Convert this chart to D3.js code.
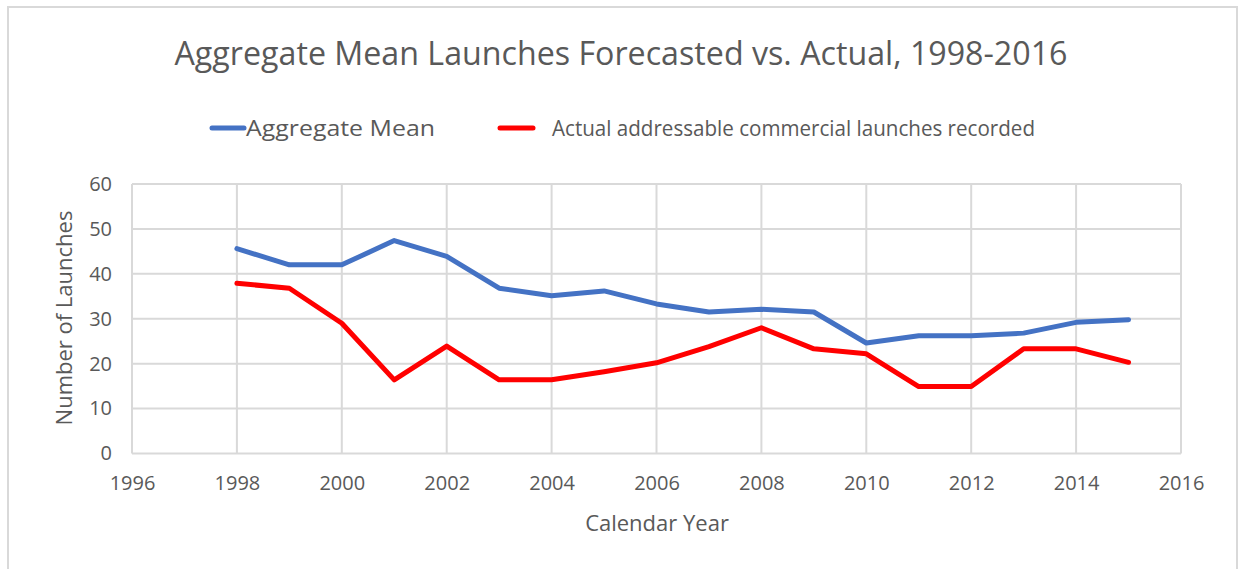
<!DOCTYPE html>
<html>
<head>
<meta charset="utf-8">
<script src="https://cdn.jsdelivr.net/npm/d3@7"></script>
<style>
  body { margin: 0; background: #fff; }
  text { font-family: "Liberation Sans Narrow", "Open Sans", sans-serif; fill: #595959; }
</style>
</head>
<body>
<svg id="chart"></svg>
<script>
// chart data
const years = [1998, 1999, 2000, 2001, 2002, 2003, 2004, 2005, 2006, 2007, 2008, 2009, 2010, 2011, 2012, 2013, 2014, 2015];
const aggregateMean = [45.6, 42.0, 42.0, 47.4, 43.9, 36.8, 35.1, 36.2, 33.3, 31.5, 32.1, 31.5, 24.6, 26.2, 26.2, 26.8, 29.2, 29.8];
const actualLaunches = [37.9, 36.8, 29.0, 16.4, 23.9, 16.4, 16.4, 18.2, 20.2, 23.8, 28.0, 23.3, 22.2, 14.9, 14.9, 23.3, 23.3, 20.3];
const xTicks = [1996, 1998, 2000, 2002, 2004, 2006, 2008, 2010, 2012, 2014, 2016];
const yTicks = [0, 10, 20, 30, 40, 50, 60];
const seriesNames = ["Aggregate  Mean", "Actual addressable commercial launches recorded"];
const seriesColors = ["#4472c4", "#ff0000"];

const width = 1239, height = 569;
const svg = d3.select("#chart").attr("width", width).attr("height", height);

// outer frame (top, left, right only)
svg.append("path")
    .attr("d", `M8,${height} L8,7 L1237,7 L1237,${height}`)
    .attr("fill", "none")
    .attr("stroke", "#d9d9d9")
    .attr("stroke-width", 2);

const margin = { top: 184, left: 132, right: 58, bottom: 116 };
const plotW = width - margin.left - margin.right;
const plotH = 453.5 - margin.top;

const x = d3.scaleLinear().domain([1996, 2016]).range([0, 1181 - margin.left]);
const y = d3.scaleLinear().domain([0, 60]).range([plotH, 0]);

const g = svg.append("g").attr("transform", `translate(${margin.left},${margin.top})`);

// grid lines
g.selectAll(".hgrid").data(yTicks).enter().append("line")
    .attr("x1", 0).attr("x2", x(2016))
    .attr("y1", d => y(d)).attr("y2", d => y(d))
    .attr("stroke", "#d9d9d9").attr("stroke-width", 2);
g.selectAll(".vgrid").data(xTicks).enter().append("line")
    .attr("x1", d => x(d)).attr("x2", d => x(d))
    .attr("y1", 0).attr("y2", plotH)
    .attr("stroke", "#d9d9d9").attr("stroke-width", 2);

// axes labels
const xAxis = d3.axisBottom(x).tickValues(xTicks).tickFormat(d3.format("d")).tickSize(0).tickPadding(22);
const yAxis = d3.axisLeft(y).tickValues(yTicks).tickSize(0).tickPadding(20);

const xg = g.append("g").attr("transform", `translate(0,${plotH})`).call(xAxis);
const yg = g.append("g").call(yAxis);
[xg, yg].forEach(a => {
    a.select(".domain").remove();
    a.selectAll("text").style("font-size", "20px").style("font-family", "'Open Sans', sans-serif").attr("fill", "#595959");
});

// lines
const line = d3.line().x((d, i) => x(years[i])).y(d => y(d));
[aggregateMean, actualLaunches].forEach((s, i) => {
    g.append("path")
        .datum(s)
        .attr("d", line)
        .attr("fill", "none")
        .attr("stroke", seriesColors[i])
        .attr("stroke-width", 5)
        .attr("stroke-linejoin", "round")
        .attr("stroke-linecap", "round");
});

// title
svg.append("text")
    .attr("x", 621).attr("y", 65)
    .attr("text-anchor", "middle")
    .attr("textLength", 893).attr("lengthAdjust", "spacingAndGlyphs")
    .style("font-size", "33px")
    .text("Aggregate Mean Launches Forecasted vs.  Actual, 1998-2016");

// legend
const legend = [
    { x1: 212, x2: 244, tx: 246, tw: 189 },
    { x1: 500, x2: 533, tx: 552, tw: 483 }
];
legend.forEach((l, i) => {
    svg.append("line")
        .attr("x1", l.x1).attr("x2", l.x2).attr("y1", 128).attr("y2", 128)
        .attr("stroke", seriesColors[i]).attr("stroke-width", 5).attr("stroke-linecap", "round");
    svg.append("text")
        .attr("x", l.tx).attr("y", 136)
        .attr("textLength", l.tw).attr("lengthAdjust", "spacingAndGlyphs")
        .style("font-size", "22px")
        .text(seriesNames[i]);
});

// axis titles
svg.append("text")
    .attr("x", 657).attr("y", 531)
    .attr("text-anchor", "middle")
    .style("font-size", "22px")
    .style("font-family", "'Open Sans', sans-serif")
    .text("Calendar Year");

svg.append("text")
    .attr("transform", `translate(72,318) rotate(-90)`)
    .attr("text-anchor", "middle")
    .style("font-size", "22px")
    .style("font-family", "'Open Sans', sans-serif")
    .text("Number of Launches");
</script>
</body>
</html>
